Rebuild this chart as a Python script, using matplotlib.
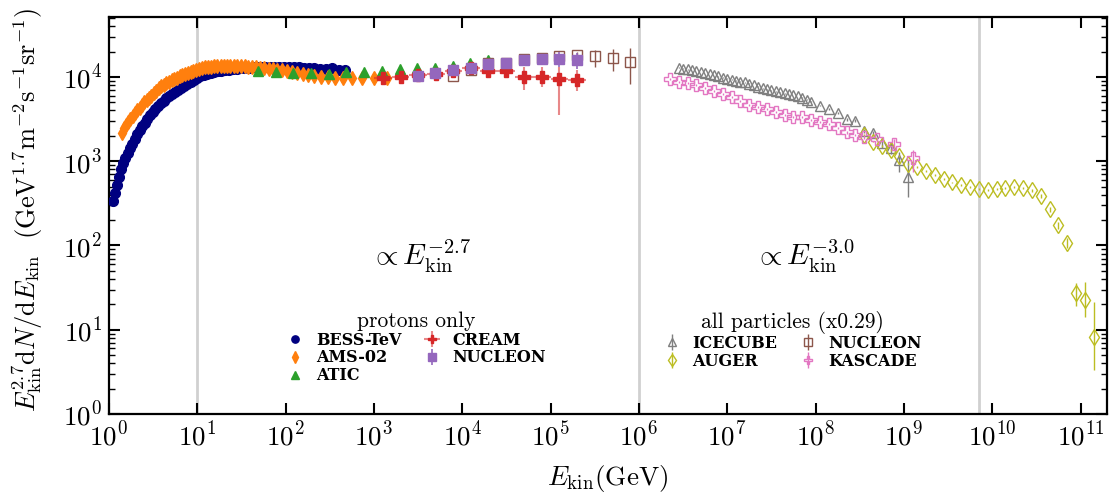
import numpy as np
import matplotlib
matplotlib.use("Agg")
import matplotlib.pyplot as plt
from matplotlib.font_manager import FontProperties
from matplotlib.ticker import LogLocator, NullLocator

plt.rcParams['font.family'] = 'serif'
plt.rcParams['font.serif'] = ['cmr10']
plt.rcParams['mathtext.fontset'] = 'cm'
plt.rcParams['axes.formatter.use_mathtext'] = True

# ---- proton spectra: kinetic energy (GeV) and E^2.7 flux ----
bess_E = [1.11, 1.17, 1.23, 1.30, 1.37, 1.45, 1.53, 1.62, 1.72, 1.83, 1.95, 2.08, 2.22,
          2.37, 2.53, 2.71, 2.90, 3.11, 3.34, 3.58, 3.85, 4.14, 4.46, 4.81, 5.19, 5.61,
          6.07, 6.57, 7.12, 7.72, 8.38, 9.10, 9.90, 10.8, 11.8, 12.9, 14.1, 15.5, 17.0,
          18.7, 20.6, 22.7, 25.1, 27.8, 30.8, 34.2, 38.0, 42.3, 47.2, 52.7, 59.0, 66.2,
          74.5, 84.0, 95.0, 108, 123, 140, 160, 184, 212, 246, 287, 337, 398, 474]
bess_F = [337, 420, 520, 650, 800, 960, 1100, 1250, 1420, 1620, 1860, 2080, 2330,
          2600, 2880, 3190, 3500, 3830, 4170, 4520, 4880, 5230, 5580, 5940, 6330, 6700,
          7080, 7460, 7860, 8260, 8680, 9200, 9700, 10150, 10550, 10900, 11150, 11400, 11650,
          11850, 12050, 12250, 12400, 12550, 12700, 12800, 12900, 12950, 13000, 13050, 13100, 13100,
          13150, 13150, 13150, 13200, 13100, 13300, 12900, 12800, 12700, 12500, 12300, 12800, 12200, 12100]

ams_E = [1.39, 1.47, 1.56, 1.65, 1.75, 1.86, 1.97, 2.09, 2.22, 2.36, 2.51, 2.67, 2.84,
         3.02, 3.22, 3.43, 3.66, 3.91, 4.17, 4.46, 4.77, 5.11, 5.47, 5.86, 6.29, 6.75,
         7.25, 7.79, 8.38, 9.02, 9.72, 10.5, 11.3, 12.2, 13.2, 14.3, 15.5, 16.8, 18.3,
         19.9, 21.7, 23.7, 25.9, 28.4, 31.2, 34.3, 37.8, 41.8, 46.3, 51.4, 57.3, 64.0,
         71.7, 80.6, 91.0, 103, 118, 135, 156, 181, 212, 250, 298, 361, 445, 561, 730, 990, 1400]
ams_F = [2150, 2450, 2700, 2950, 3150, 3450, 3750, 4000, 4300, 4650, 5000, 5300, 5650,
         6000, 6400, 6850, 7300, 7750, 8100, 8400, 8800, 9200, 9500, 9800, 10150, 10500,
         10800, 11100, 11500, 11800, 12100, 12400, 12700, 12950, 13150, 13300, 13400, 13450, 13500,
         13550, 13550, 13550, 13500, 13450, 13400, 13350, 13250, 13150, 13050, 12900, 12750, 12550,
         12350, 12150, 11950, 11750, 11450, 11100, 10800, 10500, 10250, 10050, 9900, 9750, 9650,
         9600, 9650, 9600, 9700]

atic_E = [49, 78, 122, 196, 311, 488, 773, 1235, 1960, 3100, 4900, 7800, 12300, 19700]
atic_F = [11900, 11500, 11200, 11100, 10800, 11300, 11600, 11900, 12400, 12800, 12800,
          13600, 14700, 15800]

cream_E = [1260, 2000, 3160, 5000, 7900, 12500, 19800, 31500, 50000, 79000, 125000, 199000]
cream_F = [9650, 9900, 10500, 10900, 11900, 12600, 11800, 11900, 9900, 10100, 9550, 9200]
cream_lo = [1000, 1580, 2510, 3980, 6310, 10000, 15800, 25100, 39800, 63100, 100000, 158000]
cream_hi = [1580, 2510, 3980, 6310, 10000, 15800, 25100, 39800, 63100, 100000, 158000, 251000]
cream_err_dn = [200, 200, 250, 300, 350, 400, 500, 900, 2900, 2500, 6050, 2400]
cream_err_up = [200, 200, 250, 300, 350, 400, 500, 1000, 3300, 3000, 3500, 2900]

nucp_E = [3160, 4960, 7850, 12450, 19730, 31550, 49900, 79700, 126000, 200000]
nucp_F = [10300, 11200, 12100, 12900, 14300, 14800, 15800, 16300, 16300, 15800]
nucp_err = [300, 300, 350, 400, 500, 600, 800, 1200, 3300, 3300]

# ---- all-particle spectra (scaled by 0.29) ----
ice_E = [2.82e6, 3.16e6, 3.55e6, 3.98e6, 4.47e6, 5.01e6, 5.62e6, 6.31e6, 7.08e6, 7.94e6,
         8.91e6, 1.00e7, 1.12e7, 1.26e7, 1.41e7, 1.58e7, 1.78e7, 2.00e7, 2.24e7, 2.51e7,
         2.82e7, 3.16e7, 3.55e7, 3.98e7, 4.47e7, 5.01e7, 5.62e7, 6.31e7, 7.08e7, 7.94e7,
         8.91e7, 1.12e8, 1.41e8, 1.78e8, 2.24e8, 2.82e8, 3.55e8, 4.47e8, 5.62e8, 7.08e8,
         8.91e8, 1.12e9]
ice_F = [12900, 12550, 12300, 12100, 11850, 11500, 11150, 10800, 10500, 10150,
         9850, 9550, 9300, 9050, 8800, 8600, 8350, 8050, 7700, 7350,
         7150, 6950, 6750, 6580, 6420, 6280, 6130, 5950, 5700, 5400,
         5080, 4560, 4170, 3770, 3150, 3010, 2310, 2150, 1630, 1425, 1035, 656]
ice_err_dn = [60] * 31 + [80, 90, 100, 110, 120, 130, 150, 180, 200, 285, 280]
ice_err_up = [60] * 31 + [80, 90, 100, 110, 120, 130, 150, 180, 200, 260, 380]

auger_E = [3.55e8, 4.47e8, 5.62e8, 7.08e8, 8.91e8, 1.12e9, 1.41e9, 1.78e9, 2.24e9, 2.82e9,
           3.55e9, 4.47e9, 5.62e9, 7.08e9, 8.91e9, 1.12e10, 1.41e10, 1.78e10, 2.24e10, 2.82e10,
           3.55e10, 4.47e10, 5.62e10, 7.08e10, 8.91e10, 1.12e11, 1.41e11]
auger_F = [2050, 1710, 1520, 1360, 1150, 930, 860, 770, 690, 620,
           560, 520, 490, 470, 460, 465, 480, 490, 480, 450,
           390, 270, 175, 107, 27.6, 22.5, 8.3]
auger_err_dn = [40, 35, 30, 28, 25, 22, 20, 18, 16, 15, 14, 13, 12, 12, 12, 13, 14, 15, 16, 18,
                20, 18, 16, 14, 8.6, 8.5, 5.0]
auger_err_up = [40, 35, 30, 28, 25, 22, 20, 18, 16, 15, 14, 13, 12, 12, 12, 13, 14, 15, 16, 18,
                20, 18, 16, 14, 8.4, 14.5, 13.3]

nuca_E = [7850, 12450, 19730, 31550, 49900, 79700, 126000, 200000, 320000, 507000, 800000]
nuca_F = [10200, 12000, 14500, 14800, 16300, 16900, 17500, 18200, 17500, 16900, 15000]
nuca_err_dn = [300, 350, 450, 550, 700, 900, 1200, 1800, 4200, 5000, 6800]
nuca_err_up = [300, 350, 450, 550, 700, 900, 1200, 1800, 3500, 4600, 6900]

kas_E = [2.24e6, 2.82e6, 3.55e6, 4.47e6, 5.62e6, 7.08e6, 8.91e6, 1.12e7, 1.41e7, 1.78e7,
         2.24e7, 2.82e7, 3.55e7, 4.47e7, 5.62e7, 7.08e7, 8.91e7, 1.12e8, 1.41e8, 1.78e8,
         2.24e8, 2.82e8, 3.55e8, 5.01e8, 7.76e8, 1.26e9]
kas_F = [9390, 8800, 8560, 8030, 7460, 6870, 6280, 5740, 5230, 4650,
         4370, 4140, 3870, 3540, 3380, 3320, 3090, 2930, 2770, 2460,
         2210, 2050, 1950, 1820, 1600, 1080]
kas_err_dn = [250, 230, 220, 200, 190, 170, 160, 150, 140, 130, 120, 115, 110, 100, 95, 95,
              90, 90, 85, 80, 80, 80, 90, 120, 200, 330]
kas_err_up = [250, 230, 220, 200, 190, 170, 160, 150, 140, 130, 120, 115, 110, 100, 95, 95,
              90, 90, 85, 80, 80, 80, 90, 120, 220, 280]

fig = plt.figure(figsize=(11.09, 4.98), dpi=100)
ax = fig.add_axes([0.0983, 0.1687, 0.9000, 0.7972])

for xv in [10, 1e6, 7e9]:
    ax.axvline(xv, color='#d0d0d0', lw=2, zorder=0)

h_bess = ax.errorbar(bess_E, bess_F, fmt='o', color='navy', ms=7, label='BESS-TeV', zorder=3)
h_ams = ax.errorbar(ams_E, ams_F, fmt='d', color='tab:orange', ms=7.5, label='AMS-02', zorder=4)
h_atic = ax.errorbar(atic_E, atic_F, fmt='^', color='tab:green', ms=7.5, label='ATIC', zorder=5)

cream_xerr = [np.array(cream_E) - np.array(cream_lo), np.array(cream_hi) - np.array(cream_E)]
h_cream = ax.errorbar(cream_E, cream_F, xerr=cream_xerr, yerr=[cream_err_dn, cream_err_up],
                      fmt='P', color='tab:red', ecolor=(0.84, 0.15, 0.16, 0.55), ms=8,
                      elinewidth=1.5, label='CREAM', zorder=6)
h_nucp = ax.errorbar(nucp_E, nucp_F, yerr=nucp_err, fmt='s', color='tab:purple', ms=7.5,
                     elinewidth=1.2, label='NUCLEON', zorder=7)

h_ice = ax.errorbar(ice_E, ice_F, yerr=[ice_err_dn, ice_err_up], fmt='^', color='tab:gray',
                    mfc='none', ms=7.5, mew=1.0, elinewidth=1.0, label='ICECUBE', zorder=4)
h_auger = ax.errorbar(auger_E, auger_F, yerr=[auger_err_dn, auger_err_up], fmt='d',
                      color='tab:olive', mfc='none', ms=8, mew=1.0, elinewidth=1.0,
                      label='AUGER', zorder=5)
h_nuca = ax.errorbar(nuca_E, nuca_F, yerr=[nuca_err_dn, nuca_err_up], fmt='s', color='tab:brown',
                     mfc='none', ms=7.5, mew=1.0, elinewidth=1.0, label='NUCLEON', zorder=6)
h_kas = ax.errorbar(kas_E, kas_F, yerr=[kas_err_dn, kas_err_up], fmt='P', color='tab:pink',
                    mfc='none', ms=8.5, mew=1.0, elinewidth=1.0, label='KASCADE', zorder=6)

ax.set_xscale('log')
ax.set_yscale('log')
ax.set_xlim(1, 2e11)
ax.set_ylim(1, 5.15e4)

ax.xaxis.set_major_locator(LogLocator(base=10, numticks=20))
ax.xaxis.set_minor_locator(NullLocator())
ax.yaxis.set_minor_locator(LogLocator(base=10, subs=np.arange(2, 10), numticks=20))
ax.tick_params(which='both', direction='in', top=True, right=True, labelsize=19.5)
ax.tick_params(which='major', length=8, width=1.5, pad=5)
ax.tick_params(which='minor', length=4.5, width=1.0)
for s in ax.spines.values():
    s.set_linewidth(1.6)

ax.set_xlabel(r'$E_{\rm kin}({\rm GeV})$', fontsize=19.5, labelpad=9)
ax.set_ylabel(r'$E_{\rm kin}^{2.7}{\rm d}N/{\rm d}E_{\rm kin}\ \ ({\rm GeV}^{1.7}{\rm m}^{-2}{\rm s}^{-1}{\rm sr}^{-1})$',
              fontsize=19)
ax.yaxis.set_label_coords(-0.064, 0.515)

ax.text(3.4e3, 74, r'$\propto E_{\rm kin}^{-2.7}$', ha='center', va='center', fontsize=21)
ax.text(7.4e7, 74, r'$\propto E_{\rm kin}^{-3.0}$', ha='center', va='center', fontsize=21)

# two legends: protons and all-particle data
lab_font = FontProperties(family='DejaVu Serif', weight='bold', size=11.5)
tit_font = FontProperties(family='cmr10', size=15.5)
leg_opts = dict(ncol=2, loc='upper center', frameon=False, prop=lab_font,
                title_fontproperties=tit_font, markerscale=0.75, handlelength=1.0,
                handletextpad=0.8, labelspacing=0.05, columnspacing=1.4, borderpad=0.2)
leg1 = ax.legend(handles=[h_bess, h_ams, h_atic, h_cream, h_nucp], title='protons only',
                 bbox_to_anchor=(0.308, 0.287), **leg_opts)
ax.add_artist(leg1)
ax.legend(handles=[h_ice, h_auger, h_nuca, h_kas], title='all particles (x0.29)',
          bbox_to_anchor=(0.685, 0.287), **leg_opts)

fig.savefig('out.png', dpi=100)
